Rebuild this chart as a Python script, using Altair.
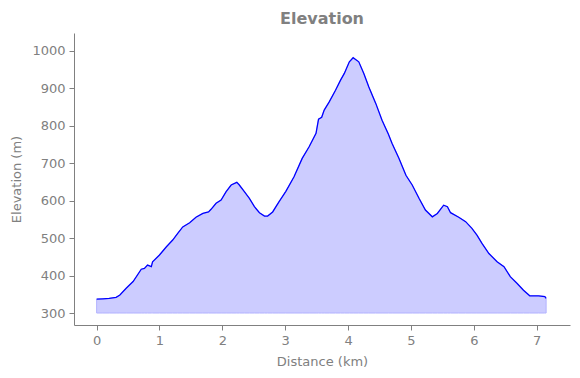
import altair as alt
import pandas as pd

distance_km = [0.00, 0.10, 0.20, 0.31, 0.37, 0.47, 0.58, 0.71, 0.76, 0.81, 0.87, 0.89,
               1.00, 1.11, 1.21, 1.29, 1.37, 1.48, 1.58, 1.69, 1.78, 1.82, 1.90, 1.98,
               2.06, 2.14, 2.23, 2.27, 2.35, 2.43, 2.51, 2.59, 2.67, 2.72, 2.80, 2.90,
               3.01, 3.14, 3.27, 3.38, 3.49, 3.53, 3.58, 3.62, 3.70, 3.80, 3.88, 3.94,
               4.02, 4.08, 4.17, 4.25, 4.33, 4.44, 4.54, 4.64, 4.70, 4.81, 4.92, 5.02,
               5.13, 5.23, 5.34, 5.42, 5.52, 5.58, 5.63, 5.76, 5.87, 5.97, 6.05, 6.13,
               6.24, 6.37, 6.48, 6.58, 6.69, 6.79, 6.89, 7.03, 7.13, 7.15]
elevation_m = [337, 338, 339, 342, 348, 366, 384, 417, 419, 428, 424, 437,
               455, 477, 495, 513, 530, 541, 556, 566, 570, 577, 593, 602,
               624, 642, 649, 642, 624, 606, 584, 568, 559, 559, 570, 597,
               625, 664, 713, 744, 780, 818, 823, 842, 864, 895, 922, 940,
               971, 982, 971, 940, 904, 860, 815, 778, 753, 713, 668, 642,
               606, 575, 557, 566, 588, 584, 568, 556, 544, 526, 508, 486,
               459, 437, 424, 397, 379, 361, 346, 346, 344, 339]
base_m = 300

df = pd.DataFrame({"d": distance_km, "e": elevation_m})
df["base"] = base_m

gray = "#808080"
xs = alt.Scale(domain=[-0.36, 7.53], nice=False, zero=False)
ys = alt.Scale(domain=[268, 1048], nice=False, zero=False)

x_axis = alt.Axis(title="Distance (km)", values=list(range(0, 8)), grid=False,
                  domainColor=gray, tickColor=gray, labelColor=gray, titleColor=gray,
                  labelFontSize=13, titleFontSize=13, labelFont="DejaVu Sans",
                  titleFont="DejaVu Sans", titleFontWeight="normal", tickSize=5,
                  labelPadding=4, titlePadding=8, format="d")
y_axis = alt.Axis(title="Elevation (m)", values=list(range(300, 1001, 100)), grid=False,
                  domainColor=gray, tickColor=gray, labelColor=gray, titleColor=gray,
                  labelFontSize=13, titleFontSize=13, labelFont="DejaVu Sans",
                  titleFont="DejaVu Sans", titleFontWeight="normal", tickSize=5,
                  labelPadding=4, titlePadding=8, format="d")

area = alt.Chart(df).mark_area(color="#ccccff", stroke="#b3b3ff", strokeWidth=1).encode(
    x=alt.X("d:Q", scale=xs, axis=x_axis),
    y=alt.Y("e:Q", scale=ys, axis=y_axis),
    y2="base:Q",
)
line = alt.Chart(df).mark_line(color="#0000ff", strokeWidth=1.3).encode(
    x=alt.X("d:Q", scale=xs),
    y=alt.Y("e:Q", scale=ys),
)

chart = alt.layer(area, line).properties(
    width=496, height=292,
    title=alt.TitleParams("Elevation", fontSize=16, fontWeight="bold", color=gray,
                          font="DejaVu Sans", anchor="middle", offset=6),
    autosize=alt.AutoSizeParams(type="none"),
    padding={"left": 74, "top": 33, "right": 10, "bottom": 53},
).configure_view(stroke=None)

chart.save("out.html", embed_options={"renderer": "svg", "actions": False})
